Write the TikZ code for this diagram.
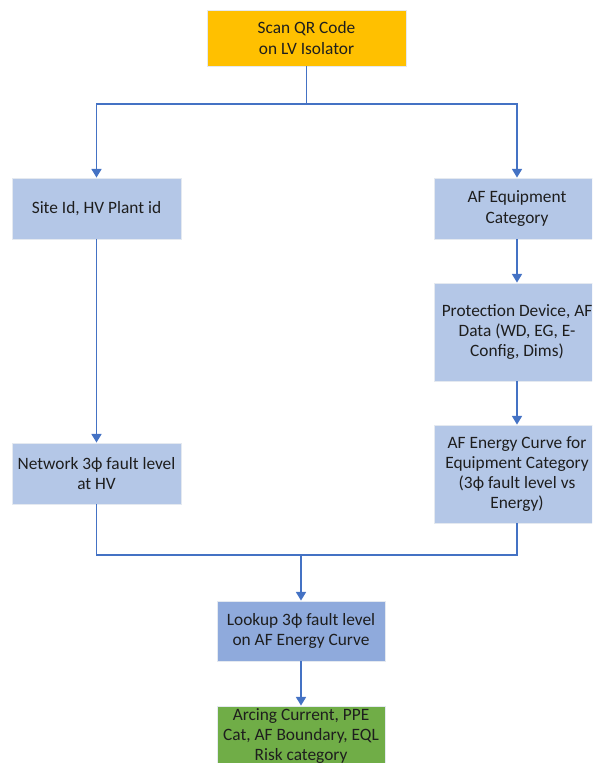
\documentclass[tikz,border=0pt]{standalone}
\usepackage{fontspec}
\setmainfont{Carlito}
\usetikzlibrary{arrows.meta}
\definecolor{qrorange}{HTML}{FFC000}
\definecolor{stepblue}{HTML}{B4C7E7}
\definecolor{lookblue}{HTML}{8FAADC}
\definecolor{resgreen}{HTML}{70AD47}
\definecolor{linkblue}{HTML}{4472C4}
\definecolor{boxedge}{HTML}{E4E9F0}
\definecolor{inktext}{HTML}{1E1E1E}
\tikzset{
  box/.style={draw=boxedge, line width=0.6pt, inner sep=0pt, align=center,
    text=inktext, font=\fontsize{13}{15.2}\selectfont},
  link/.style={draw=linkblue, line width=1.1pt},
  arr/.style={link, -{Triangle[width=7.5pt,length=6.5pt]}},
}
\begin{document}
\begin{tikzpicture}[x=0.75pt,y=-0.75pt]
\useasboundingbox (0,0) rectangle (592,763);
\clip (0,0) rectangle (592,763);
% process boxes
\node[box, fill=qrorange, minimum width=199*0.75pt, minimum height=56*0.75pt]
  (qr) at (306.5,38) {Scan QR Code\\on LV Isolator};
\node[box, fill=stepblue, minimum width=169*0.75pt, minimum height=61*0.75pt]
  (site) at (96.5,208.5) {Site Id, HV Plant id};
\node[box, fill=stepblue, minimum width=166*0.75pt, minimum height=61*0.75pt]
  (afeq) at (517,208.5) {AF Equipment\\Category};
\node[box, fill=stepblue, minimum width=166*0.75pt, minimum height=98*0.75pt]
  (prot) at (517,332) {Protection Device, AF\\Data (WD, EG, E-\\Config, Dims)};
\node[box, fill=stepblue, minimum width=166*0.75pt, minimum height=98*0.75pt]
  (curve) at (517,474) {AF Energy Curve for\\Equipment Category\\(3ϕ fault level vs\\Energy)};
\node[box, fill=stepblue, minimum width=169*0.75pt, minimum height=61*0.75pt]
  (net) at (96.5,473.5) {Network 3ϕ fault level\\at HV};
\node[box, fill=lookblue, minimum width=168*0.75pt, minimum height=60*0.75pt]
  (lookup) at (301,631) {Lookup 3ϕ fault level\\on AF Energy Curve};
\node[box, fill=resgreen, minimum width=168*0.75pt, minimum height=60*0.75pt]
  (result) at (301,736) {Arcing Current, PPE\\Cat, AF Boundary, EQL\\Risk category};
% connectors
\coordinate (split) at (306.5,104);
\coordinate (merge) at (301,555);
\draw[link] (qr.south) -- (split);
\draw[arr] (split) -| (site.north);
\draw[arr] (split) -| (afeq.north);
\draw[arr] (afeq) -- (prot);
\draw[arr] (prot) -- (curve);
\draw[arr] (site) -- (net);
\draw[link] (net.south) |- (merge);
\draw[link] (curve.south) |- (merge);
\draw[arr] (merge) -- (lookup.north);
\draw[arr] (lookup) -- (result);
\end{tikzpicture}
\end{document}
